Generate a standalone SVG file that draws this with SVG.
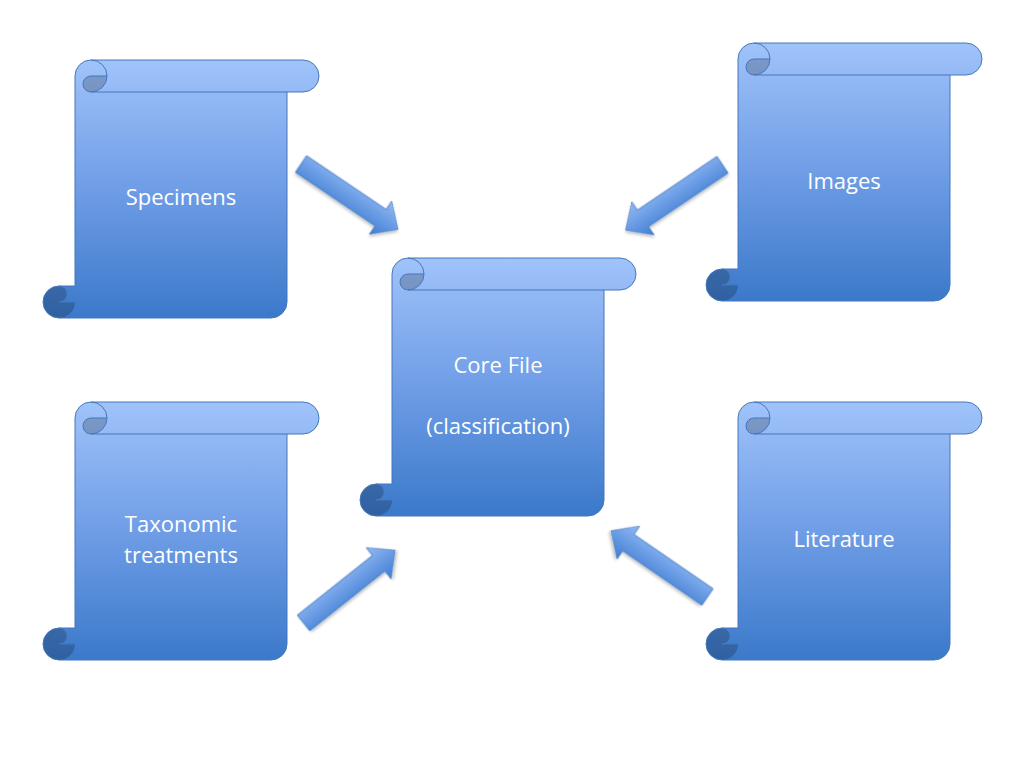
<svg xmlns="http://www.w3.org/2000/svg" xmlns:xlink="http://www.w3.org/1999/xlink" width="1024" height="768" viewBox="0 0 1024 768">
  <style>
    .lbl { font-family: "Open Sans", "Liberation Sans", sans-serif; font-size: 22px; fill: #ffffff; text-anchor: middle; }
    .edge { stroke: #4577BD; stroke-width: 1; stroke-linejoin: round; fill: none; }
    .dark { fill: #000000; fill-opacity: 0.2; stroke: none; }
    .arrow { fill: url(#arrowGrad); stroke: #4D7FC4; stroke-width: 0.8; filter: url(#shadow); }
  </style>
  <defs>
    <linearGradient id="scrollGrad" x1="0" y1="0" x2="0" y2="1">
      <stop offset="0" stop-color="#A0C3FA"/>
      <stop offset="0.5" stop-color="#6F9DE6"/>
      <stop offset="1" stop-color="#3B79CA"/>
    </linearGradient>
    <linearGradient id="arrowGrad" x1="0" y1="0" x2="0" y2="1">
      <stop offset="0" stop-color="#93BAF5"/>
      <stop offset="1" stop-color="#3F7DD2"/>
    </linearGradient>
    <filter id="shadow" x="-20%" y="-40%" width="140%" height="180%">
      <feDropShadow dx="1" dy="2" stdDeviation="1.5" flood-color="#000" flood-opacity="0.25"/>
    </filter>
    <g id="scroll">
      <path d="M16,258 L228,258 A16,16 0 0 0 244,242 L244,32 L260,32 A16,16 0 0 0 260,0 L48,0 A16,16 0 0 0 32,16 L32,226 L16,226 A16,16 0 0 0 16,258 Z" fill="url(#scrollGrad)" stroke="none"/>
      <path class="dark" d="M64,16 A16,16 0 0 1 48,32 A8,8 0 0 1 48,16 Z"/>
      <path class="dark" d="M32,242 A16,16 0 1 1 16,226 A8,8 0 0 1 16,242 Z"/>
      <path class="edge" d="M16,258 L228,258 A16,16 0 0 0 244,242 L244,32 L260,32 A16,16 0 0 0 260,0 L48,0 A16,16 0 0 0 32,16 L32,226 L16,226 A16,16 0 0 0 16,258 Z"/>
      <path class="edge" d="M48,0 A16,16 0 0 1 48,32 A8,8 0 0 1 48,16 L64,16 M244,32 L48,32 M16,226 A8,8 0 0 1 16,242 L32,242"/>
    </g>
    <polygon id="arr" points="0,-10 96,-10 96,-20 117,0 96,20 96,10 0,10"/>
  </defs>

  <rect width="1024" height="768" fill="#ffffff"/>

  <g id="connectors">
    <use xlink:href="#arr" href="#arr" class="arrow" transform="translate(301,164) rotate(34)"/>
    <use xlink:href="#arr" href="#arr" class="arrow" transform="translate(722.5,164.7) rotate(146) scale(1,-1)"/>
    <use xlink:href="#arr" href="#arr" class="arrow" transform="translate(303.5,623) rotate(-38.5)"/>
    <use xlink:href="#arr" href="#arr" class="arrow" transform="translate(707.5,597) rotate(214.5) scale(1,-1)"/>
  </g>

  <g id="specimens">
    <use xlink:href="#scroll" href="#scroll" transform="translate(43,60)"/>
    <text class="lbl" x="181" y="205">Specimens</text>
  </g>

  <g id="images">
    <use xlink:href="#scroll" href="#scroll" transform="translate(706,43)"/>
    <text class="lbl" x="844" y="189">Images</text>
  </g>

  <g id="core">
    <use xlink:href="#scroll" href="#scroll" transform="translate(360,258)"/>
    <text class="lbl" x="498" y="373">Core File</text>
    <text class="lbl" x="498" y="434">(classification)</text>
  </g>

  <g id="taxonomic">
    <use xlink:href="#scroll" href="#scroll" transform="translate(43,402)"/>
    <text class="lbl" x="181" y="532">Taxonomic</text>
    <text class="lbl" x="181" y="563">treatments</text>
  </g>

  <g id="literature">
    <use xlink:href="#scroll" href="#scroll" transform="translate(706,402)"/>
    <text class="lbl" x="844" y="547">Literature</text>
  </g>
</svg>
